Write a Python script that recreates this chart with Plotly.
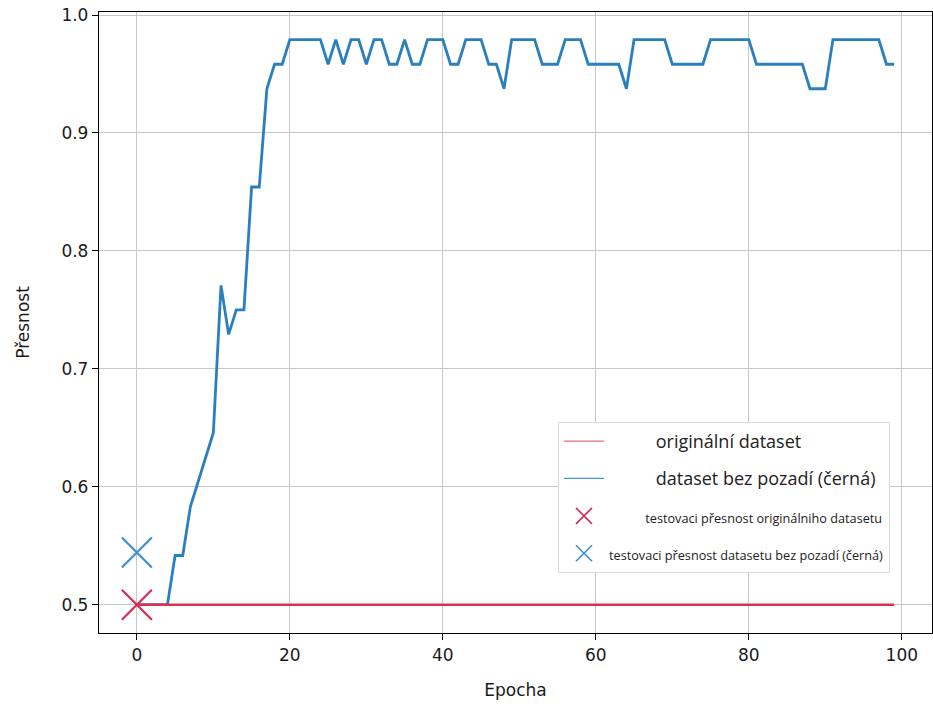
import plotly.graph_objects as go

# ---- data ----
epochs = list(range(100))
acc_original = [0.5] * 100
acc_nobg = [
    0.5, 0.5, 0.5, 0.5, 0.5, 0.5417, 0.5417, 0.5833, 0.6042, 0.625,
    0.6458, 0.7708, 0.7292, 0.75, 0.75, 0.8542, 0.8542, 0.9375, 0.9583, 0.9583,
    0.9792, 0.9792, 0.9792, 0.9792, 0.9792, 0.9583, 0.9792, 0.9583, 0.9792, 0.9792,
    0.9583, 0.9792, 0.9792, 0.9583, 0.9583, 0.9792, 0.9583, 0.9583, 0.9792, 0.9792,
    0.9792, 0.9583, 0.9583, 0.9792, 0.9792, 0.9792, 0.9583, 0.9583, 0.9375, 0.9792,
    0.9792, 0.9792, 0.9792, 0.9583, 0.9583, 0.9583, 0.9792, 0.9792, 0.9792, 0.9583,
    0.9583, 0.9583, 0.9583, 0.9583, 0.9375, 0.9792, 0.9792, 0.9792, 0.9792, 0.9792,
    0.9583, 0.9583, 0.9583, 0.9583, 0.9583, 0.9792, 0.9792, 0.9792, 0.9792, 0.9792,
    0.9792, 0.9583, 0.9583, 0.9583, 0.9583, 0.9583, 0.9583, 0.9583, 0.9375, 0.9375,
    0.9375, 0.9792, 0.9792, 0.9792, 0.9792, 0.9792, 0.9792, 0.9792, 0.9583, 0.9583,
]
test_epoch = [0]
test_acc_original = [0.5]
test_acc_nobg = [0.5443]

names = [
    "originální dataset",
    "dataset bez pozadí (černá)",
    "testovaci přesnost originálniho datasetu",
    "testovaci přesnost datasetu bez pozadí (černá)",
]
x_ticks = [0, 20, 40, 60, 80, 100]
y_ticks = [0.5, 0.6, 0.7, 0.8, 0.9, 1.0]

RED = "#d8364f"
BLUE = "#2a7fbf"
BLUE_X = "#3d8fd0"
RED_X = "#d42c55"

fig = go.Figure()

# plotted marks (no legend)
fig.add_trace(go.Scatter(x=epochs, y=acc_nobg, mode="lines",
                         line=dict(color=BLUE, width=2.8), showlegend=False))
fig.add_trace(go.Scatter(x=epochs, y=acc_original, mode="lines",
                         line=dict(color=RED, width=2.5), showlegend=False))
fig.add_trace(go.Scatter(x=test_epoch, y=test_acc_original, mode="markers",
                         marker=dict(symbol="x-thin", size=30,
                                     line=dict(color=RED_X, width=2.2)),
                         showlegend=False))
fig.add_trace(go.Scatter(x=test_epoch, y=test_acc_nobg, mode="markers",
                         marker=dict(symbol="x-thin", size=30,
                                     line=dict(color=BLUE_X, width=2.2)),
                         showlegend=False))

# legend entries
NB = "\u00a0"
small = '<span style="font-size:12.7px">{}</span>'
fig.add_trace(go.Scatter(x=[None], y=[None], mode="lines", name=NB * 10 + names[0],
                         line=dict(color="#e0707f", width=1.2), legendgroup="a"))
fig.add_trace(go.Scatter(x=[None], y=[None], mode="lines", name=NB * 10 + names[1],
                         line=dict(color="#4a93d0", width=1.2), legendgroup="b"))
fig.add_trace(go.Scatter(x=[None], y=[None], mode="markers",
                         name=small.format(NB * 11 + names[2]),
                         marker=dict(symbol="x-thin", size=16,
                                     line=dict(color=RED_X, width=1.6)),
                         legendgroup="c"))
fig.add_trace(go.Scatter(x=[None], y=[None], mode="markers",
                         name=small.format(names[3]),
                         marker=dict(symbol="x-thin", size=16,
                                     line=dict(color=BLUE_X, width=1.6)),
                         legendgroup="d"))

axis_common = dict(
    showline=True, linecolor="black", linewidth=1.3, mirror=True,
    ticks="outside", ticklen=6, tickwidth=1.2, tickcolor="black",
    showgrid=True, gridcolor="#c8c8c8", gridwidth=1.2,
    zeroline=False, automargin=False, ticklabeloverflow="allow",
    tickfont=dict(family="DejaVu Sans", size=17, color="#1a1a1a"),
)

fig.update_layout(
    width=933, height=708,
    margin=dict(l=99, r=1, t=12, b=75),
    plot_bgcolor="white", paper_bgcolor="white",
    xaxis=dict(range=[-4.95, 103.95], tickvals=x_ticks,
               ticktext=[str(v) for v in x_ticks],
               title=dict(text="Epocha", font=dict(family="DejaVu Sans", size=17, color="#1a1a1a"),
                          standoff=20),
               **axis_common),
    yaxis=dict(range=[0.476, 1.0026], tickvals=y_ticks,
               ticktext=[f"{v:.1f}" for v in y_ticks],
               title=dict(text="Přesnost", font=dict(family="DejaVu Sans", size=17, color="#1a1a1a"),
                          standoff=27),
               **axis_common),
    legend=dict(x=0.551, y=0.340, xanchor="left", yanchor="top",
                bgcolor="white", bordercolor="#dcdcdc", borderwidth=1,
                font=dict(family="Open Sans", size=18, color="#222222"),
                traceorder="grouped", tracegroupgap=11, itemwidth=40),
)

fig.write_html("out.html",
               config={"displayModeBar": False},
               post_script="document.body.style.margin='0';document.body.style.overflow='hidden';")
